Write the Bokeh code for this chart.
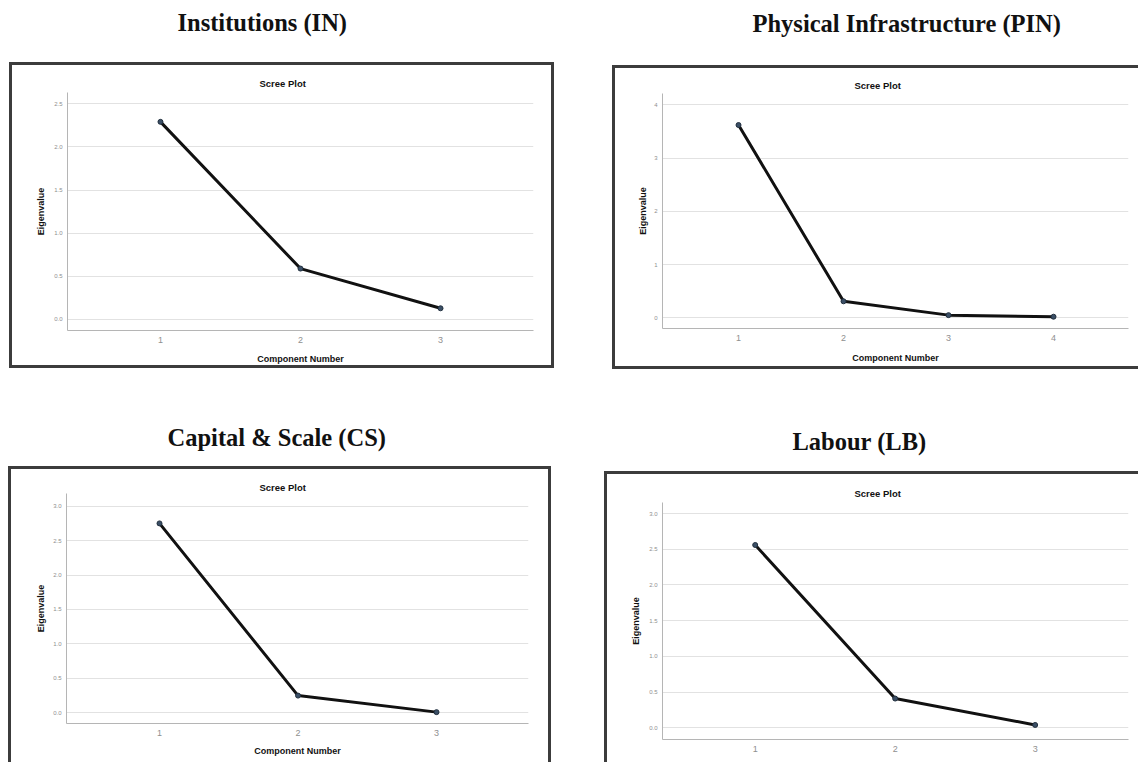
from bokeh.plotting import figure
from bokeh.layouts import column, row
from bokeh.models import Title, FixedTicker, NumeralTickFormatter, Range1d
from bokeh.core.properties import value
from bokeh.embed import file_html
from bokeh.resources import INLINE

# ---------------- data ----------------
panel_titles = ["Institutions (IN)", "Physical Infrastructure (PIN)",
                "Capital & Scale (CS)", "Labour (LB)"]
inner_title = "Scree Plot"
x_label = "Component Number"
y_label = "Eigenvalue"

in_components = [1, 2, 3]
in_eigen = [2.29, 0.59, 0.13]
pin_components = [1, 2, 3, 4]
pin_eigen = [3.62, 0.31, 0.05, 0.02]
cs_components = [1, 2, 3]
cs_eigen = [2.75, 0.25, 0.01]
lb_components = [1, 2, 3]
lb_eigen = [2.56, 0.41, 0.04]

in_yticks = [0.0, 0.5, 1.0, 1.5, 2.0, 2.5]
pin_yticks = [0, 1, 2, 3, 4]
cs_yticks = [0.0, 0.5, 1.0, 1.5, 2.0, 2.5, 3.0]
lb_yticks = [0.0, 0.5, 1.0, 1.5, 2.0, 2.5, 3.0]

SANS = "Liberation Sans"
SERIF = "Liberation Serif"
BOX = "3px solid #3c3c3c"


def make_head(text, x0, W, H, bl, br, left, middle):
    # head strip with the same left/right borders as the chart below it,
    # its x range expressed in page pixels of its own frame
    h = figure(width=W, height=H, x_range=Range1d(x0 + bl, x0 + W - br),
               y_range=Range1d(H, 0), x_axis_type=None, y_axis_type=None,
               title=None, output_backend="svg", toolbar_location=None,
               min_border_left=bl, min_border_right=br,
               min_border_top=0, min_border_bottom=0)
    h.outline_line_color = None
    h.text(x=[left], y=[middle], text=[text], text_font=value(SERIF),
           text_font_style="bold", text_font_size="24.5px",
           text_color="#111111", text_align="left", text_baseline="middle")
    return h


def make_chart(comps, eig, yticks, yfmt, W, H, borders, xr, yr, scree_offset,
               scree_standoff, ylab_standoff, xlab_standoff, sides, left_margin,
               show_xlabel=True):
    bl, br, bt, bb = borders
    p = figure(width=W, height=H, x_range=xr, y_range=yr, title=None,
               output_backend="svg", toolbar_location=None,
               min_border_left=bl, min_border_right=br,
               min_border_top=bt, min_border_bottom=bb)
    p.outline_line_color = None
    p.xgrid.visible = False
    p.ygrid.grid_line_color = "#e2e2e2"
    p.ygrid.grid_line_width = 1

    p.xaxis.ticker = FixedTicker(ticks=comps)
    p.yaxis.ticker = FixedTicker(ticks=yticks)
    p.yaxis.formatter = NumeralTickFormatter(format=yfmt)
    for ax in (p.xaxis, p.yaxis):
        ax.axis_line_color = "#b5b5b5"
        ax.axis_line_width = 1
        ax.major_tick_in = 0
        ax.major_tick_out = 0
        ax.minor_tick_in = 0
        ax.minor_tick_out = 0
        ax.major_tick_line_color = None
        ax.minor_tick_line_color = None
        ax.major_label_text_font = SANS
        ax.major_label_text_color = "#8f8f8f"
        ax.axis_label_text_font = SANS
        ax.axis_label_text_font_style = "bold"
        ax.axis_label_text_font_size = "9px"
        ax.axis_label_text_color = "#111111"
    p.xaxis.major_label_text_font_size = "9px"
    p.xaxis.major_label_standoff = 6
    p.yaxis.major_label_text_font_size = "6px"
    p.yaxis.major_label_standoff = 5
    p.yaxis.axis_label = y_label
    p.yaxis.axis_label_standoff = ylab_standoff
    if show_xlabel:
        p.xaxis.axis_label = x_label
        p.xaxis.axis_label_standoff = xlab_standoff

    p.add_layout(Title(text=inner_title, align="left", offset=scree_offset,
                       standoff=scree_standoff, text_font=SANS,
                       text_font_size="9.5px", text_font_style="bold",
                       text_color="#111111"), "above")

    p.line(comps, eig, line_color="#111111", line_width=3)
    p.scatter(comps, eig, size=5, fill_color="#3b4f66", line_color="#22303f")

    p.styles = {"border-" + s: BOX for s in sides}
    p.margin = (0, 0, 0, left_margin)
    return p


# ---- Institutions (IN) ----
h_in = make_head(panel_titles[0], 0, 580, 62, 55, 24, 177, 22)
c_in = make_chart(in_components, in_eigen, in_yticks, "0.0", 545, 306,
                  (55, 24, 27, 41), (0.336, 3.664), (-0.1275, 2.63),
                  192, 8, 5, 8, ["top", "left", "right", "bottom"], 9)

# ---- Physical Infrastructure (PIN) ----
h_pin = make_head(panel_titles[1], 580, 558, 65, 47, 13, 752, 23)
c_pin = make_chart(pin_components, pin_eigen, pin_yticks, "0", 526, 304,
                   (47, 13, 25, 44), (0.276, 4.714), (-0.201, 4.212),
                   192, 6, 3, 9, ["top", "left", "bottom"], 32)

# ---- Capital & Scale (CS) ----
h_cs = make_head(panel_titles[2], 0, 580, 97, 55, 26, 167, 67.5)
c_cs = make_chart(cs_components, cs_eigen, cs_yticks, "0.0", 543, 296,
                  (55, 26, 24, 42), (0.3285, 3.664), (-0.155, 3.184),
                  193, 2, 4, 7, ["top", "left", "right"], 8)

# ---- Labour (LB) ----
h_lb = make_head(panel_titles[3], 580, 558, 102, 55, 13, 792, 71.7)
c_lb = make_chart(lb_components, lb_eigen, lb_yticks, "0.0", 534, 291,
                  (55, 13, 28, 26), (0.3376, 3.667), (-0.1636, 3.155),
                  192, 8, 5, 5, ["top", "left"], 24, show_xlabel=False)

layout = column(row(column(h_in, c_in), column(h_pin, c_pin)),
                row(column(h_cs, c_cs), column(h_lb, c_lb)))
open("out.html", "w").write(file_html(layout, INLINE))
